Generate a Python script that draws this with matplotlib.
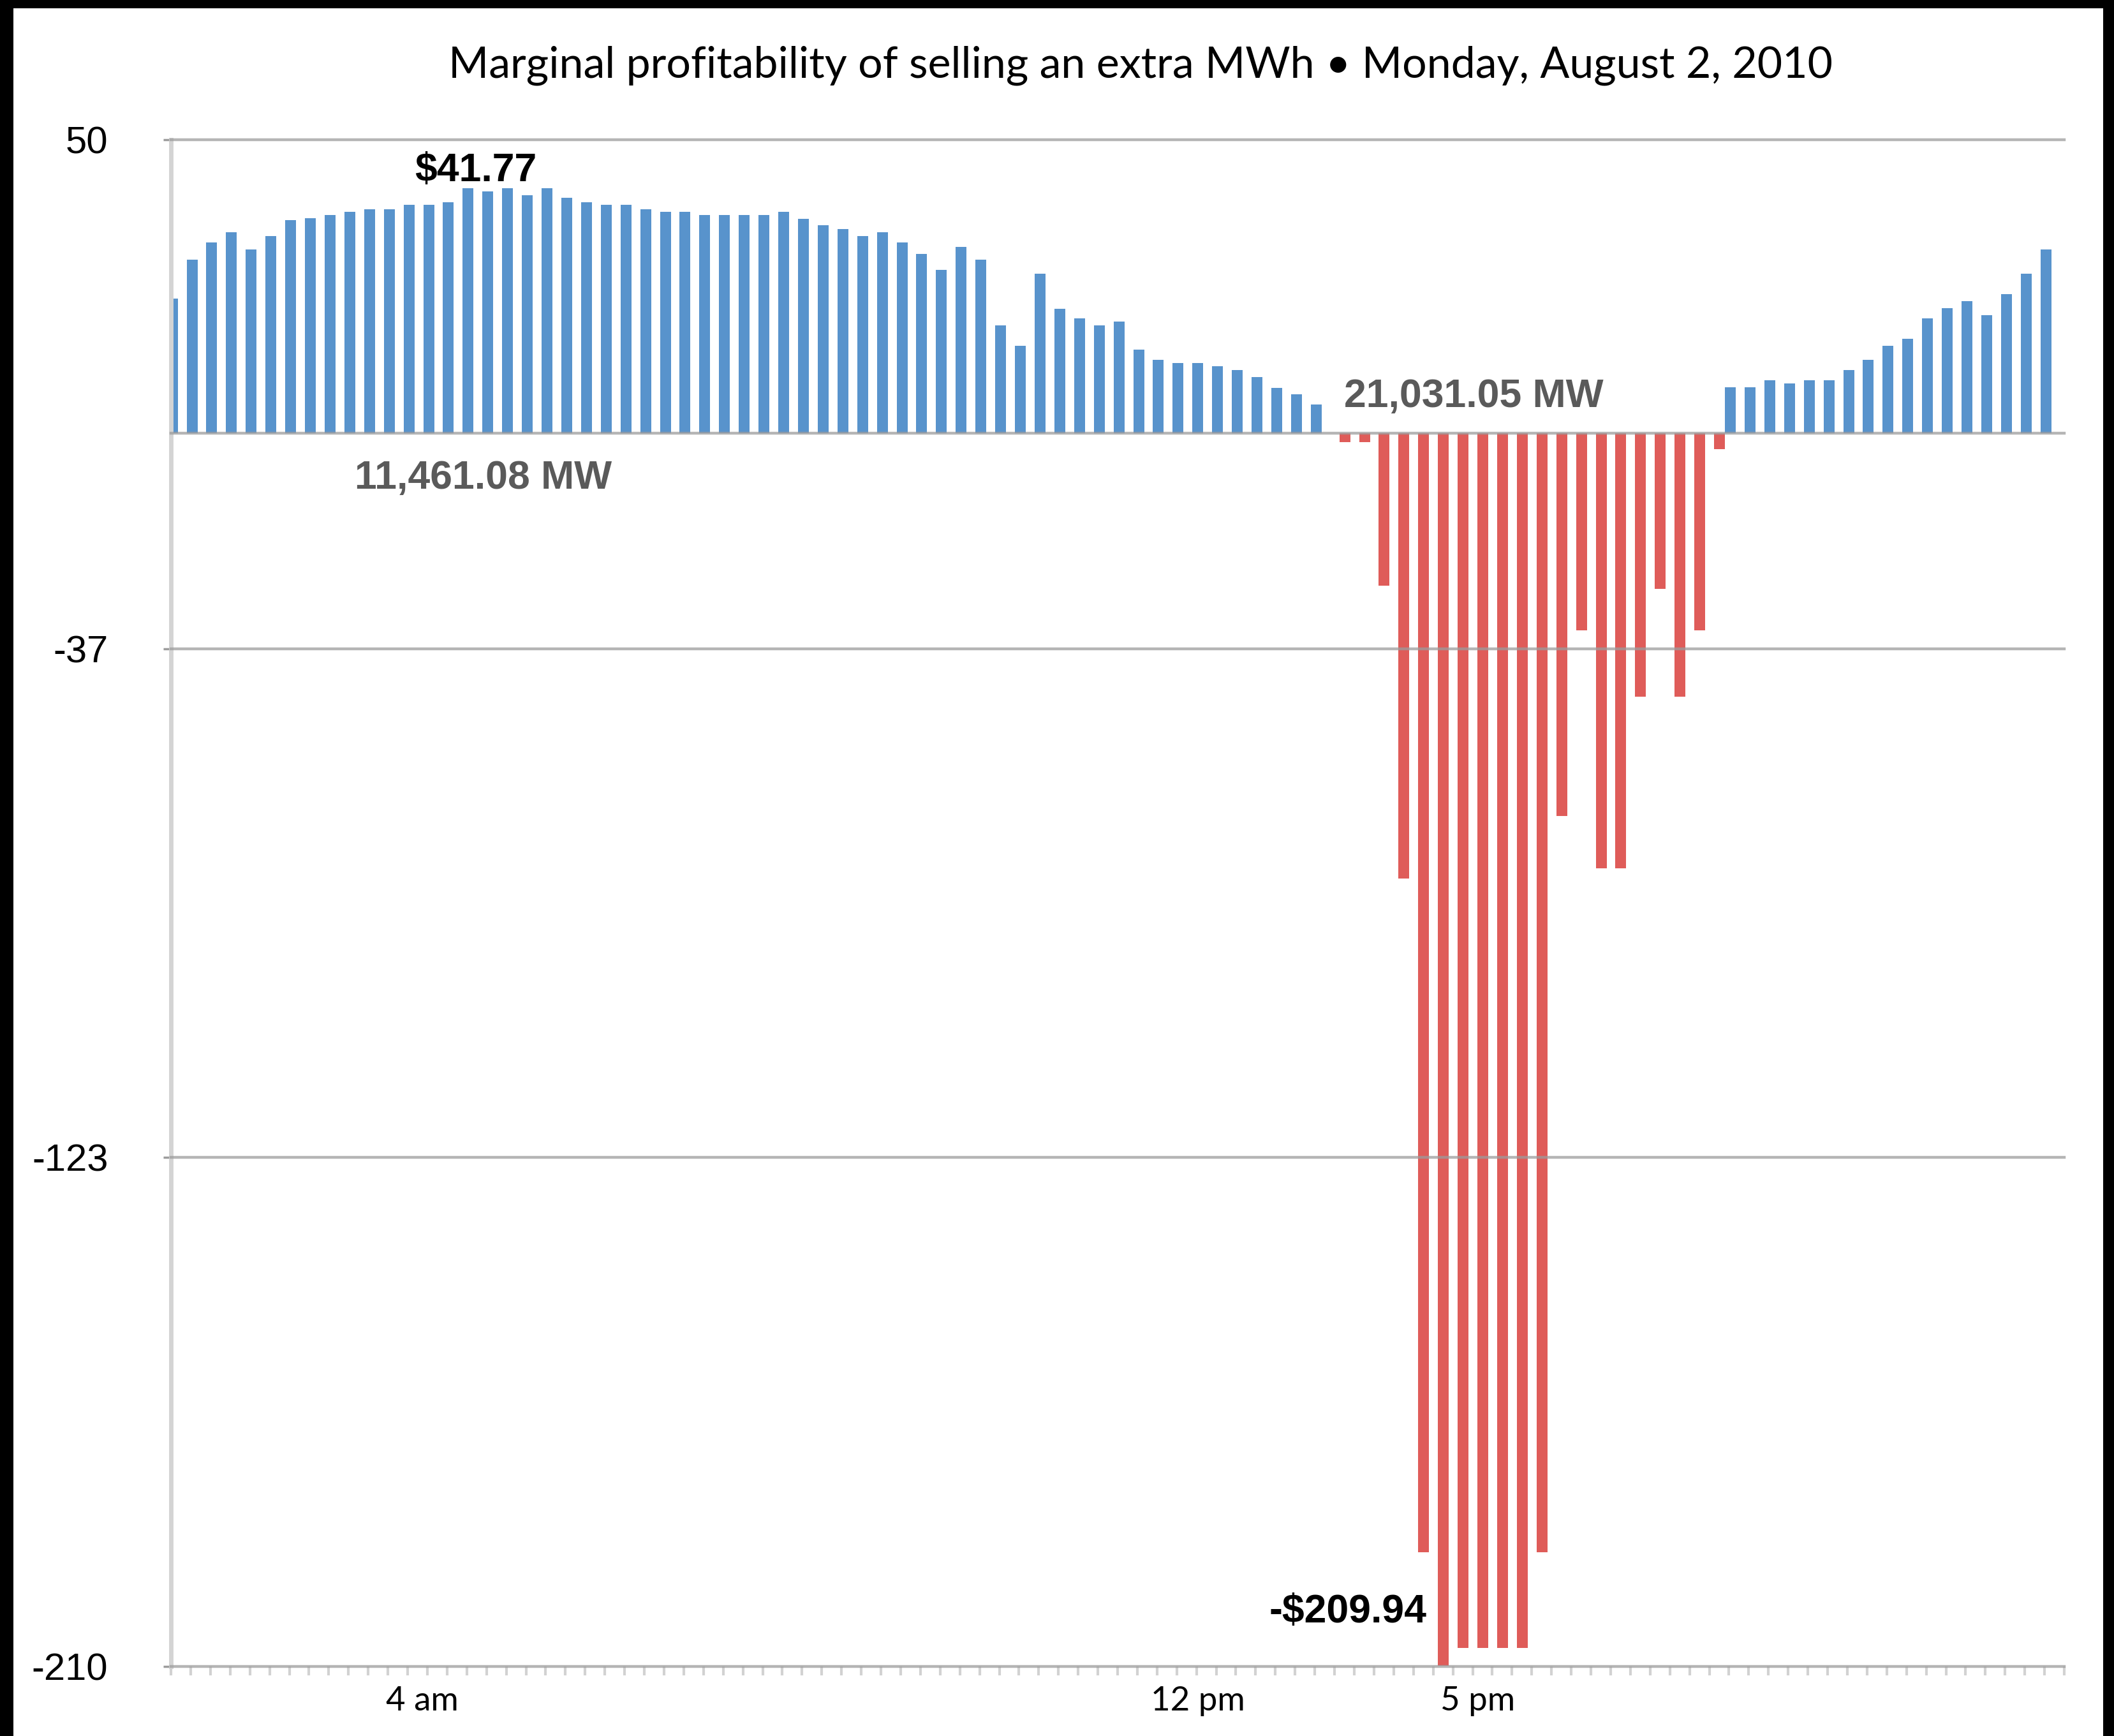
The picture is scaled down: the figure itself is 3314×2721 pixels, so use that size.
import matplotlib
matplotlib.use("Agg")
import matplotlib.pyplot as plt
from matplotlib.patches import Rectangle
import numpy as np

# marginal profit of an extra MWh ($), one value per 15-minute interval
margin = [
    23.0, 29.6, 32.5, 34.3, 31.3, 33.6, 36.3, 36.6, 37.2, 37.7, 38.2, 38.2,
    38.9, 38.9, 39.4, 41.77, 41.2, 41.7, 40.6, 41.7, 40.1, 39.4, 38.9, 38.9,
    38.2, 37.7, 37.7, 37.2, 37.2, 37.2, 37.2, 37.7, 36.5, 35.4, 34.8, 33.6,
    34.2, 32.5, 30.6, 27.8, 31.8, 29.6, 18.4, 14.9, 27.2, 21.2, 19.6, 18.4,
    19.0, 14.3, 12.5, 12.0, 12.0, 11.4, 10.8, 9.6, 7.7, 6.7, 4.9,
    -1.5, -1.5, -26.0, -75.8, -190.5, -209.94, -206.9, -206.9, -206.9, -206.9,
    -190.5, -65.2, -33.6, -74.1, -74.1, -44.8, -26.5, -44.8, -33.6, -2.7,
    7.8, 7.8, 9.0, 8.5, 9.0, 9.0, 10.8, 12.5, 14.9, 16.1, 19.6, 21.3, 22.5,
    20.1, 23.7, 27.2, 31.3,
]

time_labels = ["4 am", "12 pm", "5 pm"]
time_label_pos = [12.75, 52.07, 66.27]

y_ticks = np.linspace(50, -210, 4)
y_ticklabels = ["%d" % round(v) for v in y_ticks]

peak_text = "$41.77"
trough_text = "-$209.94"
low_load_text = "11,461.08 MW"
high_load_text = "21,031.05 MW"

title = "Marginal profitability of selling an extra MWh \u2022 Monday, August 2, 2010"

BLUE = "#5893CC"
RED = "#DF5C59"
GRID = "#9c9c9c"
num_font = "Liberation Sans"
title_font = "Lato"

W, H = 3314, 2721
fig = plt.figure(figsize=(W / 100, H / 100), dpi=100)
fig.patch.set_facecolor("black")
# white card inside the black frame
fig.add_artist(Rectangle((21 / W, 0), (3297 - 21) / W, 1 - 13 / H,
                         transform=fig.transFigure, facecolor="white",
                         edgecolor="none", zorder=-5))

ax = fig.add_axes([268 / W, 1 - 2612 / H, (3236 - 268) / W, (2612 - 219) / H])
ax.set_facecolor("white")

vals = np.array(margin)
x = np.arange(len(vals))
pos = vals >= 0
ax.bar(x[pos] + 0.07, vals[pos], width=0.55, color=BLUE, zorder=2)
ax.bar(x[~pos] + 0.52, vals[~pos], width=0.55, color=RED, zorder=2)

ax.set_xlim(0, len(vals))
ax.set_ylim(-210, 50)

for v in list(y_ticks) + [0]:
    ax.axhline(v, color=GRID, lw=3.2, alpha=0.75, zorder=3, clip_on=False)

for s in ["top", "right", "bottom"]:
    ax.spines[s].set_visible(False)
ax.spines["left"].set_color("#d4d4d4")
ax.spines["left"].set_linewidth(5)

ax.set_yticks(y_ticks)
ax.set_yticklabels(y_ticklabels, family=num_font, fontsize=43)
ax.tick_params(axis="y", length=9, width=2.5, color=GRID, pad=62)
for lab in ax.get_yticklabels():
    lab.set_horizontalalignment("right")

ax.set_xticks(time_label_pos)
ax.set_xticklabels(time_labels, family=title_font, fontsize=38)
ax.set_xticks(np.arange(len(vals) + 1), minor=True)
ax.tick_params(axis="x", which="major", length=0, pad=22)
ax.tick_params(axis="x", which="minor", length=10, width=3, color="#d2d2d2",
               direction="out")

i_max = int(np.argmax(vals))
i_min = int(np.argmin(vals))
ax.text(i_max + 0.44, vals[i_max] + 1.2, peak_text, ha="center", va="baseline",
        family=num_font, fontsize=45, fontweight="bold", color="black", zorder=5)
ax.text(i_min + 0.52 - 0.85, vals[i_min] + 7.4, trough_text, ha="right",
        va="baseline", family=num_font, fontsize=45, fontweight="bold",
        color="black", zorder=5)
ax.text(15.85, -9.45, low_load_text, ha="center", va="baseline",
        family=num_font, fontsize=45, fontweight="bold", color="#5a5a5a", zorder=5)
ax.text(66.07, 4.45, high_load_text, ha="center", va="baseline",
        family=num_font, fontsize=45, fontweight="bold", color="#5a5a5a", zorder=5)

fig.text(1788 / W, 1 - 122 / H, title, ha="center", va="baseline",
         family=title_font, fontsize=49, color="black")

fig.savefig("out.png", dpi=100)
